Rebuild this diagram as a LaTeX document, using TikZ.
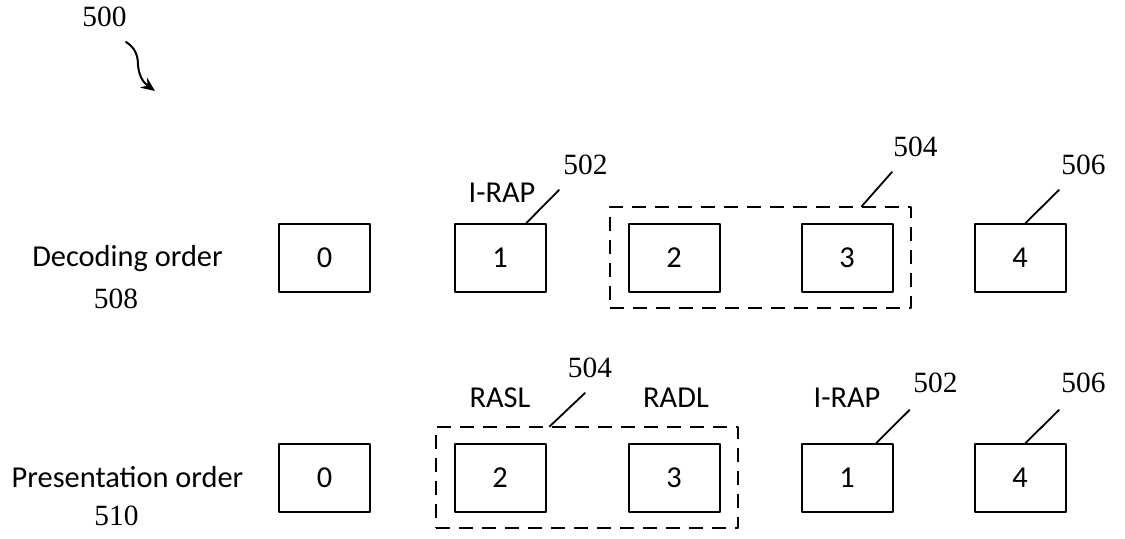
\documentclass[tikz,border=0pt]{standalone}
\usepackage{fontspec}
\setmainfont{Liberation Serif}
\newfontfamily\nhanfont{Carlito}
\usetikzlibrary{arrows.meta,fit,positioning}
\begin{document}
\begin{tikzpicture}[x=0.5pt, y=0.5pt, line join=round, line cap=round, >={Stealth[length=7pt,width=6pt]},
	khung/.style={draw, line width=1pt, minimum width=45.5pt, minimum height=34pt, inner sep=0pt, font=\nhanfont\fontsize{15.2}{18}\selectfont},
	nhom/.style={draw, line width=1pt, line cap=butt, dash pattern=on 7pt off 4.5pt, inner xsep=8.75pt, inner ysep=7.75pt},
	chu/.style={inner sep=0pt, font=\nhanfont\fontsize{15.2}{18}\selectfont},
	so/.style={inner sep=0pt, font=\fontsize{14.7}{17}\selectfont},
	chi/.style={line width=0.9pt}]
			\useasboundingbox (0,0) rectangle (1125,539);
			\def\yt{281} \def\yd{61} % y hàng trên, y hàng dưới
			\foreach \x/\n [count=\i from 0] in {324.5/0,500/1,674/2,847/3,1020/4}
			\node[khung] (t\i) at (\x,\yt) {\n}; % thứ tự giải mã
			\foreach \x/\n [count=\i from 0] in {324.5/0,500/2,674/3,847/1,1020/4}
			\node[khung] (p\i) at (\x,\yd) {\n}; % thứ tự trình chiếu
			\node[nhom, fit=(t2)(t3)] (tg) {};
			\node[nhom, fit=(p1)(p2)] (pg) {};
			% Nhãn bên trái
			\node[chu, anchor=base] (giaima) at (127.5,272) {Decoding order};
			\node[so, anchor=base] (n508) at (116,230) {508};
			\node[chu, anchor=base] (trinhchieu) at (127.5,51) {Presentation order};
			\node[so, anchor=base] (n510) at (116.5,13) {510};
			\node[so, anchor=base] (n500) at (104.5,512) {500};
			% Nhãn trên khung
			\node[chu, above=10pt of t1, xshift=1pt] (irapT) {I-RAP};
			\node[chu, above=17.5pt of p1] (rasl) {RASL};
			\node[chu, above=17.5pt of p2, xshift=1pt] (radl) {RADL};
			\node[chu, above=17.5pt of p3] (irapP) {I-RAP};
			% Đường chỉ và số
			\foreach \ten/\x/\y in {e502t/559/349,e504t/892/367,e506t/1059/349,e504p/585/146,e502p/909.5/129,e506p/1059/129}
			\coordinate (\ten) at (\x,\y);
			\draw[chi] (t1.53)--(e502t);
			\draw[chi] (tg.27)--(e504t);
			\draw[chi] (t4.81)--(e506t);
			\draw[chi] (pg.126)--(e504p);
			\draw[chi] (p3.50)--(e502p);
			\draw[chi] (p4.81)--(e506p);
			\node[so, anchor=base west] (n502t) at (563,364) {502};
			\node[so, anchor=base west] (n504t) at (893,382) {504};
			\node[so, anchor=base west] (n506t) at (1061,364) {506};
			\node[so, anchor=base] (n504p) at (590,161) {504};
			\node[so, anchor=base west] (n502p) at (913,146) {502};
			\node[so, anchor=base west] (n506p) at (1061,146) {506};
			% Mũi tên cong
			\coordinate (m0) at (126,497); \coordinate (m1) at (155,448);
			\draw[line width=1pt, ->] (m0) .. controls (134,492) and (138,485) .. (138,474) .. controls (139,462) and (144,456) .. (m1);
\end{tikzpicture}
\end{document}
